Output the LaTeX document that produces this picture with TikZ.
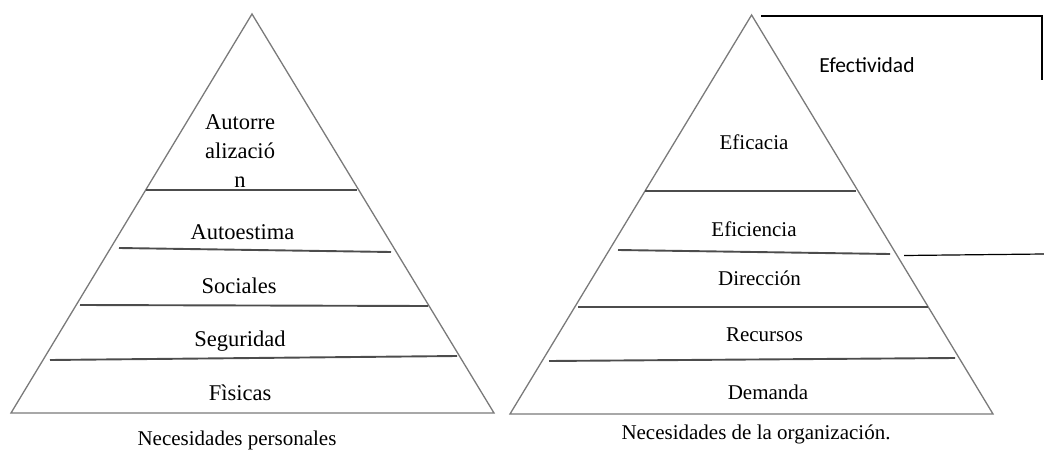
\documentclass[tikz,border=0pt]{standalone}
\usepackage{fontspec}
\setmainfont{Liberation Serif}
\newfontfamily\sidefont{Carlito}
\begin{document}
\begin{tikzpicture}[x=1pt,y=-1pt,
  edge/.style={draw=black!52, line width=1.3pt, line join=miter},
  tier/.style={draw=black!70, line width=1.9pt},
  frame/.style={draw=black, line width=1.2pt},
  lblL/.style={anchor=base, inner sep=0pt, font=\fontsize{22.5}{29}\selectfont},
  lblR/.style={anchor=base, inner sep=0pt, font=\fontsize{21}{25}\selectfont},
  caption/.style={anchor=base, inner sep=0pt, font=\fontsize{21}{25}\selectfont},
  side/.style={anchor=base, inner sep=0pt, font=\sidefont\fontsize{21.5}{25}\selectfont},
]
\useasboundingbox (0,0) rectangle (1044,452);

% ---- personal needs pyramid ----
\draw[edge] (252,14) -- (11,413) -- (494,413) -- cycle;
\draw[tier] (146,190) -- (357,190);
\draw[tier] (119,248) -- (391,252);
\draw[tier] (80,305) -- (428,306);
\draw[tier] (50,360) -- (457,356);

\node[lblL, text width=100pt, align=center] (autorrealizacion) at (240,129) {Autorre\\alizació\\n};
\node[lblL] (autoestima) at (242.5,239) {Autoestima};
\node[lblL] (sociales) at (239,293) {Sociales};
\node[lblL] (seguridad) at (240,346) {Seguridad};
\node[lblL] (fisicas) at (240,400) {Fìsicas};
\node[caption] (capL) at (237,445.5) {Necesidades personales};

% ---- organisational needs pyramid ----
\draw[edge] (751.6,15) -- (510,414) -- (993,414) -- cycle;
\draw[tier] (645,191) -- (856,191);
\draw[tier] (618,250) -- (890,254);
\draw[tier] (578,307) -- (928,307);
\draw[tier] (549,361) -- (955,358);

\node[lblR] (eficacia) at (754,149) {Eficacia};
\node[lblR] (eficiencia) at (754,236.5) {Eficiencia};
\node[lblR] (direccion) at (759.5,285) {Dirección};
\node[lblR] (recursos) at (764.5,341.5) {Recursos};
\node[lblR] (demanda) at (768,399) {Demanda};
\node[caption] (capR) at (756,439) {Necesidades de la organización.};

% ---- effectiveness bracket ----
\coordinate (brTopL) at (761,16);
\coordinate (brTopR) at (1042,16);
\coordinate (brSide) at (1042,80);
\coordinate (brLowL) at (904,255.5);
\coordinate (brLowR) at (1044,254);
\draw[frame] (brTopL) -- (brTopR) -- (brSide);
\draw[frame] (brLowL) -- (brLowR);
\node[side] (efectividad) at (867,72.5) {Efectividad};
\end{tikzpicture}
\end{document}
